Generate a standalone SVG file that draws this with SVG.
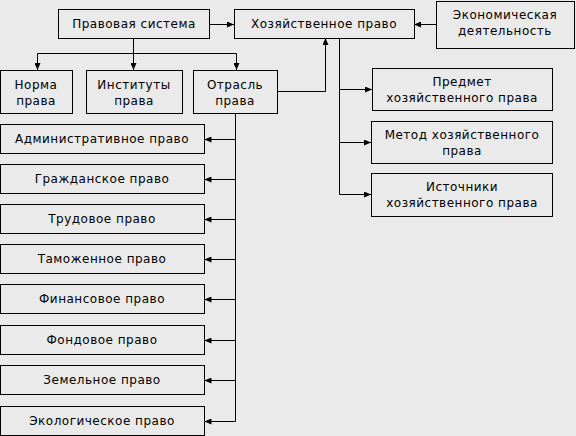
<svg xmlns="http://www.w3.org/2000/svg" width="576" height="436" viewBox="0 0 576 436">
<defs>
<marker id="ah" markerWidth="7" markerHeight="6" refX="7" refY="3" orient="auto" markerUnits="userSpaceOnUse">
<path d="M0,0 L7,3 L0,6 Z" fill="#000"/>
</marker>
<style>
.box{fill:#EAEAEA;stroke:#000;stroke-width:1}
.t{font-family:"DejaVu Sans",Verdana,sans-serif;font-size:12px;letter-spacing:0.5px;fill:#000;text-anchor:middle}
.c{fill:none;stroke:#000;stroke-width:1}
</style>
</defs>
<rect width="576" height="436" fill="#EAEAEA"/>
<g id="connectors">
<path class="c" d="M209.5,24.5 H234" marker-end="url(#ah)"/>
<path class="c" d="M436.5,24.5 H414" marker-end="url(#ah)"/>
<path class="c" d="M133.5,38.5 V53.5"/>
<path class="c" d="M37.5,53.5 H236.5"/>
<path class="c" d="M37.5,53.5 V70" marker-end="url(#ah)"/>
<path class="c" d="M133.5,53.5 V70" marker-end="url(#ah)"/>
<path class="c" d="M236.5,53.5 V70" marker-end="url(#ah)"/>
<path class="c" d="M277.5,91.5 H325.5 V38" marker-end="url(#ah)"/>
<path class="c" d="M339.5,38.5 V194.5"/>
<path class="c" d="M339.5,89.5 H372" marker-end="url(#ah)"/>
<path class="c" d="M339.5,142.5 H371" marker-end="url(#ah)"/>
<path class="c" d="M339.5,194.5 H371" marker-end="url(#ah)"/>
<path class="c" d="M235.5,113.5 V421.5"/>
<path class="c" d="M235.5,139.5 H204.5" marker-end="url(#ah)"/>
<path class="c" d="M235.5,179.5 H204.5" marker-end="url(#ah)"/>
<path class="c" d="M235.5,219.5 H204.5" marker-end="url(#ah)"/>
<path class="c" d="M235.5,259.5 H204.5" marker-end="url(#ah)"/>
<path class="c" d="M235.5,299.5 H204.5" marker-end="url(#ah)"/>
<path class="c" d="M235.5,340.5 H204.5" marker-end="url(#ah)"/>
<path class="c" d="M235.5,380.5 H204.5" marker-end="url(#ah)"/>
<path class="c" d="M235.5,421.5 H204.5" marker-end="url(#ah)"/>
</g>
<g id="pravovaya"><rect class="box" x="58.5" y="9.5" width="151" height="29"/><text class="t" x="134" y="28">Правовая система</text></g>
<g id="hoz"><rect class="box" x="234.5" y="9.5" width="180" height="29"/><text class="t" x="324" y="28">Хозяйственное право</text></g>
<g id="econ"><rect class="box" x="436.5" y="1.5" width="138" height="47"/><text class="t" x="505" y="19">Экономическая</text><text class="t" x="505" y="35">деятельность</text></g>
<g id="norma"><rect class="box" x="0.5" y="70.5" width="72" height="43"/><text class="t" x="36" y="89">Норма</text><text class="t" x="36" y="105">права</text></g>
<g id="instituty"><rect class="box" x="86.5" y="70.5" width="96" height="43"/><text class="t" x="134" y="89">Институты</text><text class="t" x="134" y="105">права</text></g>
<g id="otrasl"><rect class="box" x="193.5" y="70.5" width="84" height="43"/><text class="t" x="235" y="89">Отрасль</text><text class="t" x="235" y="105">права</text></g>
<g id="predmet"><rect class="box" x="372.5" y="68.5" width="180" height="42"/><text class="t" x="462" y="86">Предмет</text><text class="t" x="462" y="102">хозяйственного права</text></g>
<g id="metod"><rect class="box" x="371.5" y="121.5" width="181" height="42"/><text class="t" x="462" y="139">Метод хозяйственного</text><text class="t" x="462" y="155">права</text></g>
<g id="istochniki"><rect class="box" x="371.5" y="173.5" width="181" height="43"/><text class="t" x="462" y="191">Источники</text><text class="t" x="462" y="207">хозяйственного права</text></g>
<g id="admin"><rect class="box" x="0.5" y="124.5" width="204" height="29"/><text class="t" x="102" y="143">Административное право</text></g>
<g id="grazhd"><rect class="box" x="0.5" y="164.5" width="204" height="29"/><text class="t" x="102" y="183">Гражданское право</text></g>
<g id="trud"><rect class="box" x="0.5" y="204.5" width="204" height="29"/><text class="t" x="102" y="223">Трудовое право</text></g>
<g id="tamozh"><rect class="box" x="0.5" y="244.5" width="204" height="29"/><text class="t" x="102" y="263">Таможенное право</text></g>
<g id="finans"><rect class="box" x="0.5" y="284.5" width="204" height="29"/><text class="t" x="102" y="303">Финансовое право</text></g>
<g id="fond"><rect class="box" x="0.5" y="325.5" width="204" height="29"/><text class="t" x="102" y="344">Фондовое право</text></g>
<g id="zemel"><rect class="box" x="0.5" y="365.5" width="204" height="29"/><text class="t" x="102" y="384">Земельное право</text></g>
<g id="ekolog"><rect class="box" x="0.5" y="406.5" width="204" height="29"/><text class="t" x="102" y="425">Экологическое право</text></g>
</svg>
